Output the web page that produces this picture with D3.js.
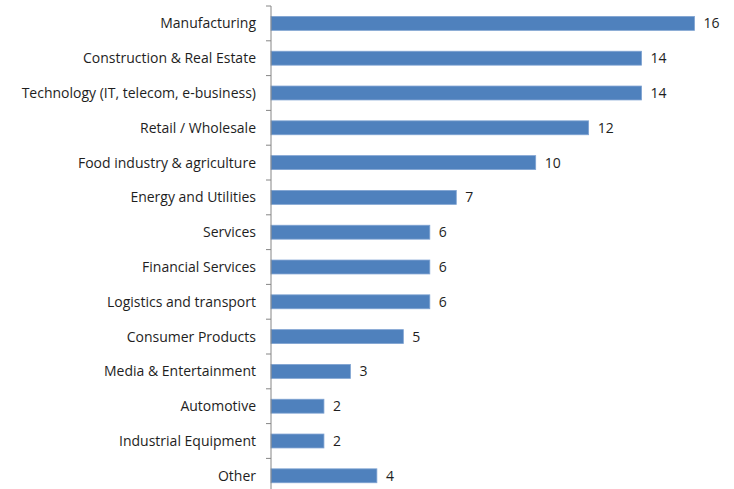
<!DOCTYPE html>
<html>
<head>
<meta charset="utf-8">
<script src="https://cdn.jsdelivr.net/npm/d3@7"></script>
<style>
  html, body { margin: 0; padding: 0; background: #fff; }
  svg { display: block; }
</style>
</head>
<body>
<svg id="chart" width="734" height="489"></svg>
<script>
// Industries and their counts
const categories = [
  "Manufacturing",
  "Construction & Real Estate",
  "Technology (IT, telecom, e-business)",
  "Retail / Wholesale",
  "Food industry & agriculture",
  "Energy and Utilities",
  "Services",
  "Financial Services",
  "Logistics and transport",
  "Consumer Products",
  "Media & Entertainment",
  "Automotive",
  "Industrial Equipment",
  "Other"
];
const counts = [16, 14, 14, 12, 10, 7, 6, 6, 6, 5, 3, 2, 2, 4];

const svg = d3.select("#chart");
const plotLeft = 271, plotTop = 6;
const band = 34.8;

const x = d3.scaleLinear().domain([0, 16]).range([plotLeft, plotLeft + 423.5]);
const y = d3.scaleBand()
  .domain(categories)
  .range([plotTop, plotTop + band * categories.length])
  .paddingInner(0.6)
  .paddingOuter(0.3);

// Bars
svg.append("g").selectAll("rect")
  .data(categories)
  .join("rect")
  .attr("x", x(0))
  .attr("y", d => y(d))
  .attr("width", (d, i) => x(counts[i]) - x(0))
  .attr("height", y.bandwidth())
  .attr("fill", "#4F81BD")
  .attr("stroke", "#7FA3D2")
  .attr("stroke-width", 0.8);

// Value labels
svg.append("g").selectAll("text")
  .data(categories)
  .join("text")
  .attr("x", (d, i) => x(counts[i]) + 9)
  .attr("y", d => y(d) + y.bandwidth() / 2)
  .attr("dy", "0.36em")
  .attr("font-family", "'Open Sans', 'Noto Sans', sans-serif")
  .attr("font-size", 14)
  .attr("fill", "#1e1e1e")
  .text((d, i) => counts[i]);

// Category axis with ticks between bands
const axisG = svg.append("g");
axisG.append("line")
  .attr("x1", plotLeft).attr("x2", plotLeft)
  .attr("y1", plotTop).attr("y2", plotTop + band * categories.length)
  .attr("stroke", "#868686").attr("stroke-width", 1);
axisG.selectAll("line.tick")
  .data(d3.range(categories.length + 1))
  .join("line")
  .attr("class", "tick")
  .attr("x1", plotLeft - 5).attr("x2", plotLeft)
  .attr("y1", i => plotTop + band * i).attr("y2", i => plotTop + band * i)
  .attr("stroke", "#868686").attr("stroke-width", 1);

axisG.selectAll("text")
  .data(categories)
  .join("text")
  .attr("x", plotLeft - 15)
  .attr("y", d => y(d) + y.bandwidth() / 2)
  .attr("dy", "0.36em")
  .attr("text-anchor", "end")
  .attr("font-family", "'Open Sans', 'Noto Sans', sans-serif")
  .attr("font-size", 14)
  .attr("fill", "#1e1e1e")
  .text(d => d);
</script>
</body>
</html>
